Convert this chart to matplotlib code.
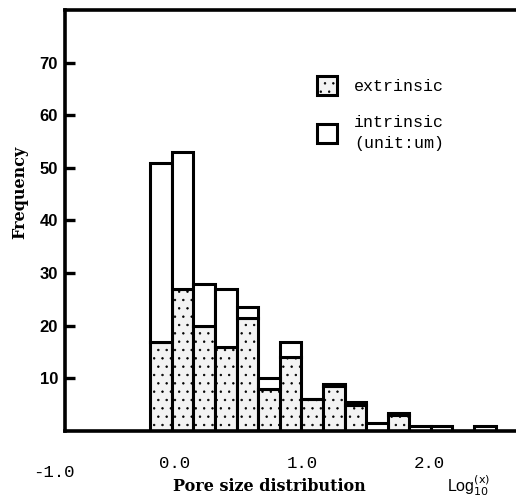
import matplotlib
matplotlib.use("Agg")
import matplotlib.pyplot as plt

plt.rcParams['hatch.color'] = '#b4b4b4'
plt.rcParams['hatch.linewidth'] = 0.5

# log10 of pore size (bin centres) and counts per bin
bin_centers = [-0.11, 0.06, 0.23, 0.40, 0.57, 0.74, 0.91, 1.08,
               1.25, 1.42, 1.59, 1.76, 1.93, 2.10, 2.27, 2.44]
extrinsic = [17, 27, 20, 16, 21.5, 8, 14, 6, 8.5, 5, 0, 3, 0, 0, 0, 0]
intrinsic = [34, 26, 8, 11, 2, 2, 3, 0, 0.5, 0.5, 1.5, 0.5, 1, 1, 0, 1]
bin_width = 0.17

y_ticks = [10, 20, 30, 40, 50, 60, 70]
x_ticks = [0.0, 1.0, 2.0]
x_labels = ["0.0", "1.0", "2.0"]

fig = plt.figure(figsize=(5.16, 4.99), dpi=100)
ax = fig.add_axes([0.126, 0.1363, 0.874, 0.8437])

lw = 2.2
b1 = ax.bar(bin_centers, extrinsic, width=bin_width, color='#f3f3f3',
            hatch='..', edgecolor='black', linewidth=lw)
b2 = ax.bar(bin_centers, intrinsic, width=bin_width, bottom=extrinsic,
            color='white', edgecolor='black', linewidth=lw)
for p in b1:
    p.set_edgecolor('black')

ax.set_xlim(-0.866, 2.685)
ax.set_ylim(0, 80)

for s in ['left', 'top', 'bottom']:
    ax.spines[s].set_linewidth(2.6)
ax.spines['right'].set_visible(False)

ax.set_yticks(y_ticks)
ax.set_yticklabels([str(v) for v in y_ticks], fontfamily='Liberation Sans',
                   fontweight='bold', fontsize=12)
ax.tick_params(axis='y', direction='in', length=7, width=2.4, pad=5)

ax.set_xticks(x_ticks)
ax.set_xticklabels(x_labels, fontfamily='Liberation Mono', fontsize=12.5)
ax.tick_params(axis='x', length=0, pad=18)
ax.text(-0.95, -7.8, "-1.0", fontfamily='Liberation Mono', fontsize=12.5,
        ha='center', va='center', clip_on=False)

fig.text(0.039, 0.615, "Frequency", rotation=90, ha='center', va='center',
         fontfamily='DejaVu Serif', fontweight='bold', fontsize=11.5)
fig.text(0.523, 0.026, "Pore size distribution", ha='center', va='center',
         fontfamily='DejaVu Serif', fontweight='bold', fontsize=11.5)
fig.text(0.866, 0.026, r"Log$_{\mathrm{10}}^{\mathrm{(x)}}$", ha='left', va='center',
         fontfamily='Liberation Sans', fontsize=11.5)

leg = ax.legend([b1, b2], ["extrinsic", "intrinsic\n(unit:um)"],
                loc='upper left', bbox_to_anchor=(0.586, 0.877),
                bbox_transform=fig.transFigure, frameon=False,
                prop={'family': 'Liberation Mono', 'size': 12},
                handlelength=1.2, handleheight=1.3, handletextpad=1.0,
                labelspacing=1.25)
leg.get_texts()[1].set_linespacing(1.45)

fig.savefig("out.png", dpi=100)
